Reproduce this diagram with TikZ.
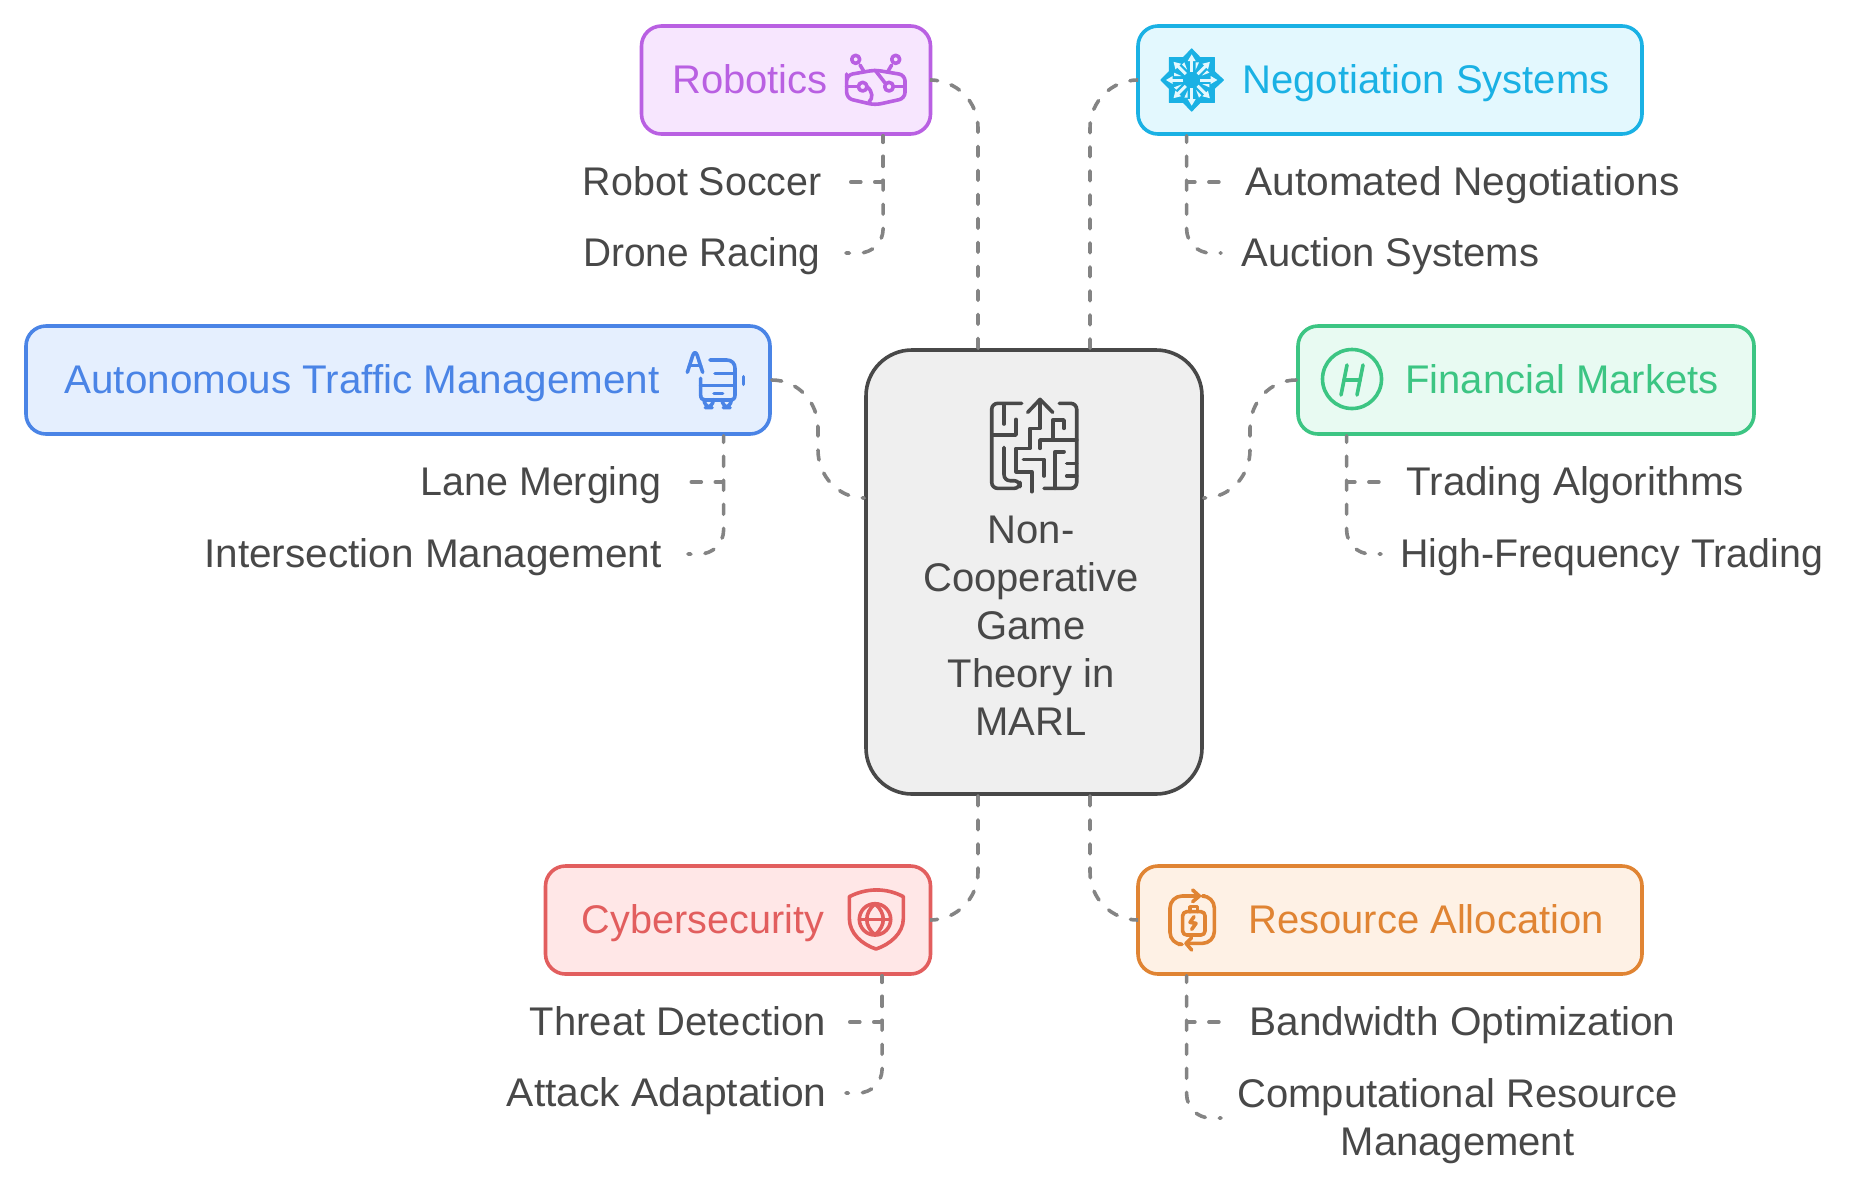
\documentclass[tikz,border=0pt]{standalone}
\usepackage{fontspec}
\setmainfont{Liberation Sans}
\newcommand{\fitw}[2]{{\addfontfeature{FakeStretch=#1}#2}}

\definecolor{inkgray}{HTML}{484848}
\definecolor{conngray}{HTML}{848484}
\definecolor{cenfill}{HTML}{EFEFEF}
\definecolor{robline}{HTML}{B960E2}
\definecolor{robfill}{HTML}{F7E6FE}
\definecolor{negline}{HTML}{1AB1E4}
\definecolor{negfill}{HTML}{E3F8FE}
\definecolor{traline}{HTML}{4A84E6}
\definecolor{trafill}{HTML}{E5EFFE}
\definecolor{finline}{HTML}{3CC583}
\definecolor{finfill}{HTML}{E8FAF2}
\definecolor{cybline}{HTML}{E25E5E}
\definecolor{cybfill}{HTML}{FFE7E7}
\definecolor{resline}{HTML}{E08433}
\definecolor{resfill}{HTML}{FEF1E5}

\tikzset{
  catbox/.style 2 args={draw=#1, fill=#2, line width=1.8pt, rounded corners=10pt, inner sep=0pt, minimum height=54pt},
  catlabel/.style={text=#1, font=\fontsize{20}{24}\selectfont, inner sep=0pt, text height=18.9pt, text depth=5pt},
  subleft/.style={anchor=east, text=inkgray, font=\fontsize{20}{24}\selectfont, inner ysep=0pt, inner xsep=12.5pt, text height=18.9pt, text depth=5pt},
  subright/.style={anchor=west, text=inkgray, font=\fontsize{20}{24}\selectfont, inner ysep=0pt, inner xsep=#1, text height=18.9pt, text depth=5pt},
  conn/.style={draw=conngray, line width=1.8pt, line cap=round, dash pattern=on 5pt off 7pt},
  subconn/.style={conn, dash phase=1.75pt},
  iconline/.style={draw=#1, line width=1.8pt, line cap=round, line join=round},
  iconzoom/.style={shift={#1}, x=0.1667pt, y=-0.1667pt}
}

\begin{document}
\begin{tikzpicture}[x=0.5pt, y=-0.5pt]
\useasboundingbox (0,0) rectangle (1850,1190);

\node[draw=inkgray, fill=cenfill, line width=1.8pt, rounded corners=23pt, inner sep=0pt, minimum width=168pt, minimum height=222pt] (central) at (1034,572) {};
\node[text=inkgray, align=center, inner sep=0pt, font=\fontsize{20}{24}\selectfont] (centraltext) at (1031,626) {Non-\\Cooperative\\Game\\Theory in\\MARL};

\node[catbox={robline}{robfill}, minimum width=144.5pt] (robotics) at (786,80) {};
\node[catbox={negline}{negfill}, minimum width=252pt] (negotiation) at (1390,80) {};
\node[catbox={traline}{trafill}, minimum width=372pt] (traffic) at (398,380) {};
\node[catbox={finline}{finfill}, minimum width=228pt] (financial) at (1526,380) {};
\node[catbox={cybline}{cybfill}, minimum width=192.5pt] (cyber) at (738,920) {};
\node[catbox={resline}{resfill}, minimum width=252pt] (resource) at (1390,920) {};

\node[catlabel=robline] (roboticstext) at (750,80) {Robotics};
\node[catlabel=negline] (negotiationtext) at (1426,80) {Negotiation Systems};
\node[catlabel=traline] (traffictext) at (362,380) {\fitw{1.01}{Autonomous Traffic Management}};
\node[catlabel=finline] (financialtext) at (1562,380) {Financial Markets};
\node[catlabel=cybline] (cybertext) at (703,920) {\fitw{0.99}{Cybersecurity}};
\node[catlabel=resline] (resourcetext) at (1426,920) {Resource Allocation};

\node[subleft] (soccer) at (847,182) {\fitw{0.985}{Robot Soccer}};
\node[subleft] (drone) at (846,253) {\fitw{0.97}{Drone Racing}};
\node[subleft] (lane) at (687,482) {\fitw{0.985}{Lane Merging}};
\node[subleft, inner xsep=13pt] (intersection) at (688,554) {\fitw{1.013}{Intersection Management}};
\node[subleft, inner xsep=10.5pt] (threat) at (847,1022) {Threat Detection};
\node[subleft, inner xsep=9.5pt] (attack) at (846,1093) {\fitw{1.02}{Attack Adaptation}};

\node[subright=12pt] (automated) at (1221,182) {\fitw{1.017}{Automated Negotiations}};
\node[subright=10pt] (auction) at (1221,253) {Auction Systems};
\node[subright=12.5pt] (trading) at (1381,482) {\fitw{1.01}{Trading Algorithms}};
\node[subright=9.5pt] (highfreq) at (1381,554) {\fitw{0.983}{High-Frequency Trading}};
\node[subright=14pt] (bandwidth) at (1221,1022) {\fitw{1.014}{Bandwidth Optimization}};
\node[subright=8pt, align=center, text height=42.9pt] (computational) at (1221,1118) {Computational Resource\\Management};

\coordinate (trafficup) at (818,428);
\coordinate (trafficdown) at (818,450);
\coordinate (financialup) at (1250,428);
\coordinate (financialdown) at (1250,450);

\draw[conn, rounded corners=24pt] (robotics.east) -| ([xshift=-28pt]central.north);
\draw[conn, rounded corners=24pt] (negotiation.west) -| ([xshift=28pt]central.north);
\draw[conn] (traffic.east) .. controls +(26,0) and +(0,-26) .. (trafficup) -- (trafficdown) .. controls +(0,26) and +(-26,0) .. ([yshift=37pt]central.west);
\draw[conn] (financial.west) .. controls +(-26,0) and +(0,-26) .. (financialup) -- (financialdown) .. controls +(0,26) and +(26,0) .. ([yshift=37pt]central.east);
\draw[conn, rounded corners=24pt] ([xshift=-28pt]central.south) |- (cyber.east);
\draw[conn, rounded corners=24pt] ([xshift=28pt]central.south) |- (resource.west);

\draw[subconn] ([xshift=-24.6pt]robotics.south east) |- (soccer.east);
\draw[subconn, rounded corners=12pt] ([xshift=-24.6pt]robotics.south east) |- (drone.east);
\draw[subconn] ([xshift=25.2pt]negotiation.south west) |- (automated.west);
\draw[subconn, rounded corners=12pt] ([xshift=25.2pt]negotiation.south west) |- (auction.west);
\draw[subconn] ([xshift=-24.1pt]traffic.south east) |- (lane.east);
\draw[subconn, rounded corners=12pt] ([xshift=-24.1pt]traffic.south east) |- (intersection.east);
\draw[subconn] ([xshift=25.2pt]financial.south west) |- (trading.west);
\draw[subconn, rounded corners=12pt] ([xshift=25.2pt]financial.south west) |- (highfreq.west);
\draw[subconn] ([xshift=-25.1pt]cyber.south east) |- (threat.east);
\draw[subconn, rounded corners=12pt] ([xshift=-25.1pt]cyber.south east) |- (attack.east);
\draw[subconn] ([xshift=25.2pt]resource.south west) |- (bandwidth.west);
\draw[subconn, rounded corners=12pt] ([xshift=25.2pt]resource.south west) |- (computational.west);

\begin{scope}[iconzoom={(860,340)}]
\draw[iconline=inkgray, rounded corners=3pt] (485,190) -- (395,190) -- (395,445) -- (480,445) -- (480,422) -- (432,422) -- (432,322);
\draw[iconline=inkgray] (432,195) -- (432,252);
\draw[iconline=inkgray] (468,238) -- (468,285) -- (400,285);
\draw[iconline=inkgray] (540,180) -- (540,265) -- (510,265) -- (510,325) -- (468,325) -- (468,395) -- (515,395) -- (515,455);
\draw[iconline=inkgray] (503,217) -- (540,178) -- (578,217);
\draw[iconline=inkgray, rounded corners=3pt] (598,190) -- (650,190) -- (650,445) -- (552,445);
\draw[iconline=inkgray] (585,445) -- (585,335) -- (612,335);
\draw[iconline=inkgray] (620,370) -- (650,370);
\draw[iconline=inkgray] (620,408) -- (650,408);
\draw[iconline=inkgray] (490,358) -- (552,358) -- (552,408);
\draw[iconline=inkgray] (540,325) -- (540,300) -- (650,300);
\draw[iconline=inkgray] (578,300) -- (578,240) -- (612,240) -- (612,265);
\end{scope}

\begin{scope}[iconzoom={(840,30)}]
\draw[iconline=robline] (47,88) circle (12);
\draw[iconline=robline] (167,88) circle (12);
\draw[iconline=robline] (60,105) -- (72,125);
\draw[iconline=robline] (155,105) -- (143,125);
\draw[iconline=robline, rounded corners=3pt] (20,150) -- (20,135) -- (105,120) -- (195,135) -- (195,205) -- (105,225) -- (20,205) -- cycle;
\draw[iconline=robline] (68,170) circle (13);
\draw[iconline=robline] (147,170) circle (13);
\draw[iconline=robline] (20,170) -- (55,170);
\draw[iconline=robline] (160,170) -- (195,170);
\draw[iconline=robline] (105,120) -- (136,160);
\draw[iconline=robline] (81,170) .. controls (99,185) and (99,205) .. (87,216);
\end{scope}

\begin{scope}[iconzoom={(1155,45)}]
\fill[negline, draw=negline, line join=round, line width=0.6pt] (110,12) -- (135,38) -- (178,38) -- (178,80) -- (205,105) -- (178,130) -- (178,172) -- (135,172) -- (110,198) -- (85,172) -- (43,172) -- (43,130) -- (18,105) -- (43,80) -- (43,38) -- (85,38) -- cycle;
\foreach \a in {0,45,...,315} {
  \begin{scope}[rotate around={\a:(110,105)}]
  \draw[negfill, line width=1.5pt] (110,80) -- (110,45);
  \fill[negfill] (110,28) -- (122,48) -- (98,48) -- cycle;
  \fill[negfill] (122,52) -- (132,52) -- (122,74) -- cycle;
  \end{scope}
}
\fill[negline] (110,105) circle (12);
\end{scope}

\begin{scope}[iconzoom={(680,345)}]
\draw[iconline=traline] (22,82) -- (38,32) .. controls (42,20) and (48,20) .. (52,32) -- (68,82);
\draw[iconline=traline] (30,62) -- (62,62);
\draw[iconline=traline] (90,45) -- (140,45) .. controls (155,45) and (165,55) .. (165,70) -- (165,150) .. controls (165,160) and (160,165) .. (150,165) -- (75,165) .. controls (67,165) and (62,160) .. (62,150) -- (62,100);
\draw[iconline=traline] (105,85) -- (165,85);
\draw[iconline=traline] (62,122) -- (165,122);
\draw[iconline=traline] (102,145) -- (128,145);
\draw[iconline=traline] (190,95) -- (190,118);
\draw[iconline=traline, rounded corners=4pt] (72,165) -- (72,188) -- (100,188) -- (100,165);
\draw[iconline=traline, rounded corners=4pt] (126,165) -- (126,188) -- (154,188) -- (154,165);
\end{scope}

\draw[iconline=finline] (1352,379) circle (29.5);
\draw[iconline=finline] (1341,395) -- (1347,365);
\draw[iconline=finline] (1357,395) -- (1363,365);
\draw[iconline=finline] (1344,380) -- (1360,380);

\begin{scope}[iconzoom={(840,885)}]
\draw[iconline=cybline] (28,35) .. controls (80,8) and (140,8) .. (190,35) -- (190,100) .. controls (190,145) and (150,178) .. (108,192) .. controls (66,178) and (28,145) .. (28,100) -- cycle;
\draw[iconline=cybline] (105,103) circle (47);
\draw[iconline=cybline] (58,103) -- (152,103);
\draw[iconline=cybline] (105,56) .. controls (72,85) and (72,121) .. (105,150) .. controls (138,121) and (138,85) .. (105,56);
\end{scope}

\begin{scope}[iconzoom={(1160,885)}]
\draw[iconline=resline, rounded corners=6pt] (55,178) -- (30,178) -- (30,33) -- (118,33);
\draw[iconline=resline] (98,15) -- (118,33) -- (98,50);
\draw[iconline=resline, rounded corners=6pt] (135,33) -- (163,33) -- (163,175) -- (78,175);
\draw[iconline=resline] (95,158) -- (78,175) -- (95,195);
\draw[iconline=resline, rounded corners=2pt] (68,80) -- (135,80) -- (135,150) -- (68,150) -- cycle;
\draw[iconline=resline] (90,80) -- (90,65) -- (112,65) -- (112,80);
\draw[iconline=resline] (102,95) -- (90,112) -- (108,115) -- (95,133);
\end{scope}

\end{tikzpicture}
\end{document}
